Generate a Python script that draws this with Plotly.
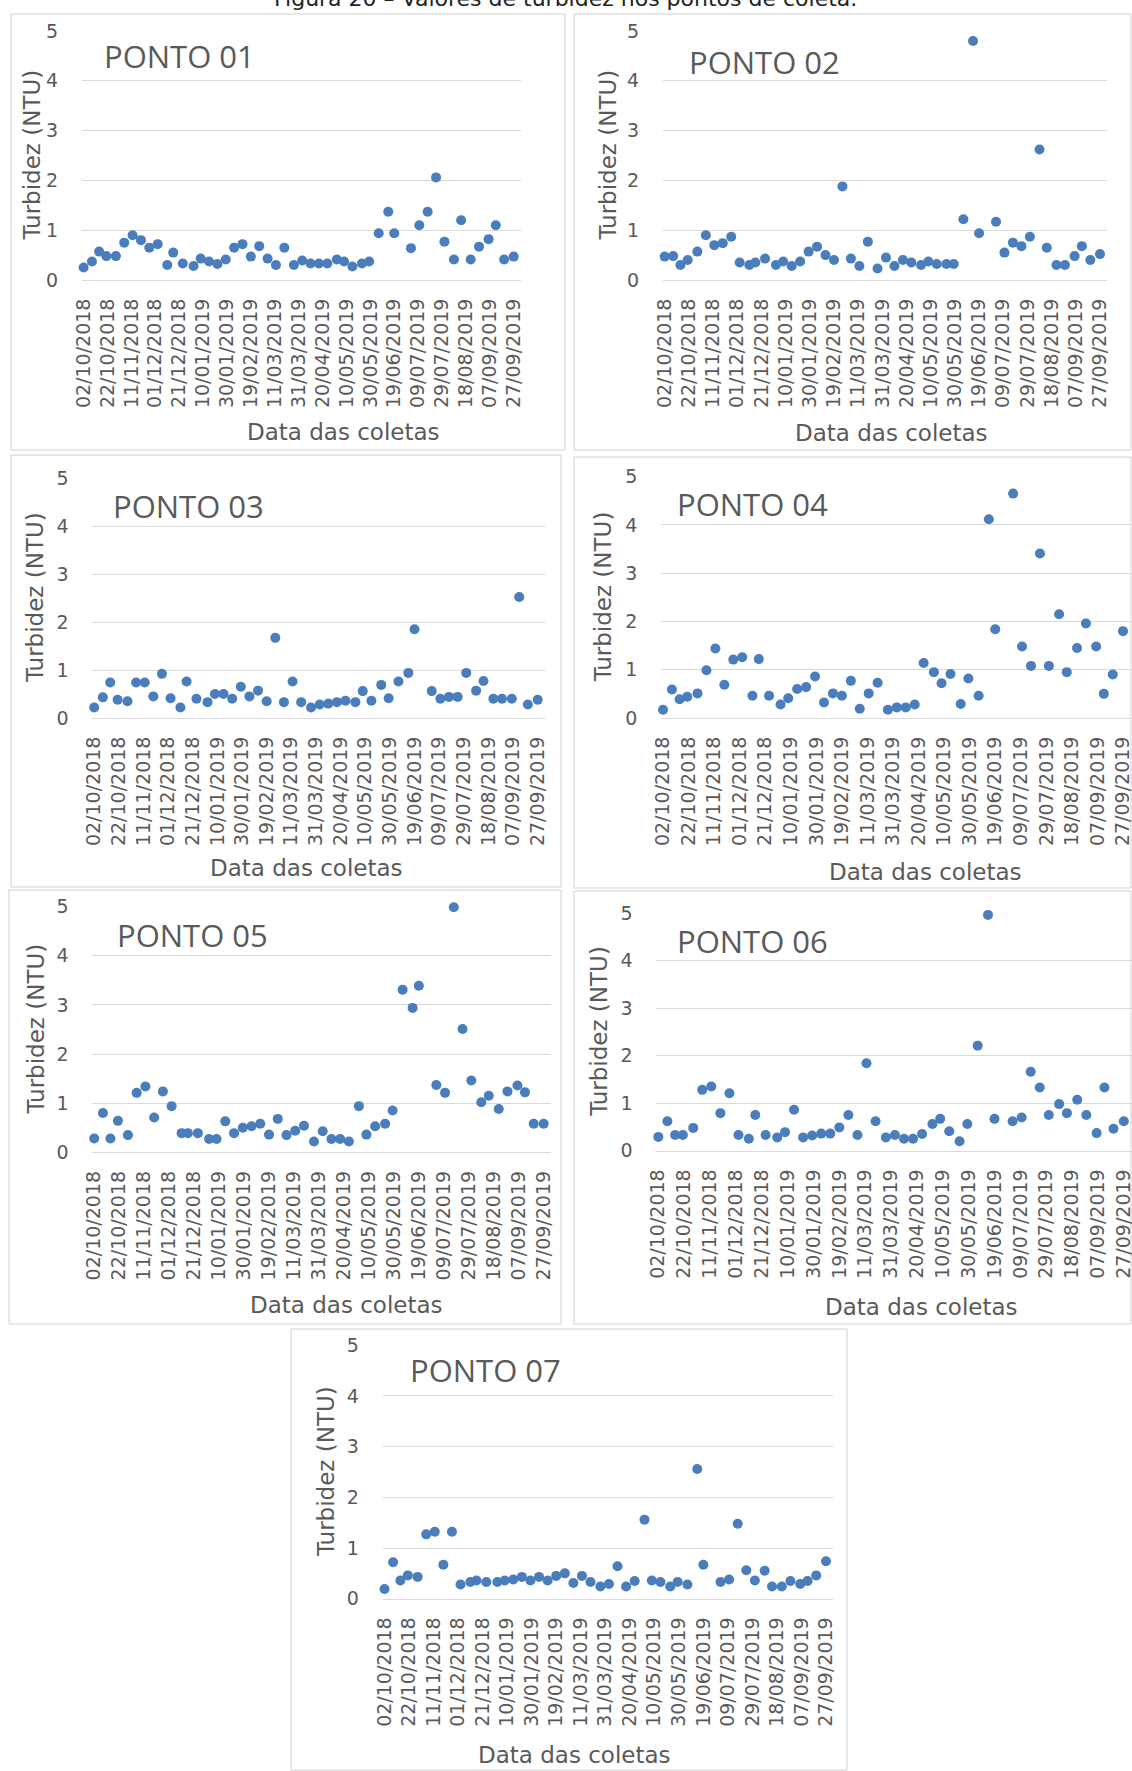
import pandas as pd
import plotly.graph_objects as go

# ---------------- data ----------------
dates = ["2018-10-02", "2018-10-09", "2018-10-15", "2018-10-21", "2018-10-29", "2018-11-05",
         "2018-11-12", "2018-11-19", "2018-11-26", "2018-12-03", "2018-12-11", "2018-12-16",
         "2018-12-24", "2019-01-02", "2019-01-08", "2019-01-15", "2019-01-22", "2019-01-29",
         "2019-02-05", "2019-02-12", "2019-02-19", "2019-02-26", "2019-03-05", "2019-03-12",
         "2019-03-19", "2019-03-27", "2019-04-03", "2019-04-10", "2019-04-17", "2019-04-24",
         "2019-05-02", "2019-05-08", "2019-05-15", "2019-05-23", "2019-05-29", "2019-06-06",
         "2019-06-14", "2019-06-19", "2019-07-03", "2019-07-10", "2019-07-17", "2019-07-24",
         "2019-07-31", "2019-08-08", "2019-08-14", "2019-08-22", "2019-08-29", "2019-09-06",
         "2019-09-12", "2019-09-19", "2019-09-27"]

ponto_01 = [0.25, 0.37, 0.57, 0.48, 0.48, 0.75, 0.90, 0.80, 0.65, 0.72,
            0.30, 0.55, 0.33, 0.28, 0.43, 0.37, 0.32, 0.41, 0.65, 0.72,
            0.47, 0.68, 0.43, 0.30, 0.65, 0.30, 0.39, 0.33, 0.33, 0.33,
            0.41, 0.37, 0.27, 0.33, 0.37, 0.94, 1.37, 0.94, 0.64, 1.10,
            1.37, 2.06, 0.77, 0.41, 1.20, 0.41, 0.67, 0.82, 1.10, 0.41, 0.47]
ponto_02 = [0.47, 0.48, 0.30, 0.40, 0.57, 0.90, 0.70, 0.74, 0.87, 0.35,
            0.30, 0.35, 0.43, 0.30, 0.37, 0.28, 0.37, 0.57, 0.67, 0.50,
            0.40, 1.88, 0.43, 0.28, 0.77, 0.23, 0.45, 0.28, 0.40, 0.35,
            0.30, 0.37, 0.32, 0.32, 0.32, 1.22, 4.80, 0.94, 1.17, 0.55,
            0.75, 0.68, 0.87, 2.62, 0.65, 0.30, 0.30, 0.48, 0.68, 0.40, 0.52]
ponto_03 = [0.22, 0.43, 0.74, 0.38, 0.35, 0.74, 0.74, 0.45, 0.92, 0.41,
            0.22, 0.76, 0.40, 0.33, 0.50, 0.50, 0.40, 0.65, 0.45, 0.57,
            0.35, 1.67, 0.33, 0.76, 0.33, 0.22, 0.28, 0.30, 0.33, 0.36,
            0.33, 0.56, 0.36, 0.69, 0.41, 0.76, 0.94, 1.85, 0.56, 0.40,
            0.44, 0.44, 0.94, 0.57, 0.77, 0.40, 0.40, 0.40, 2.52, 0.28, 0.38]
ponto_04 = [0.17, 0.59, 0.39, 0.44, 0.51, 0.99, 1.44, 0.69, 1.21, 1.26,
            0.46, 1.22, 0.46, 0.28, 0.41, 0.60, 0.64, 0.86, 0.32, 0.51,
            0.46, 0.77, 0.19, 0.51, 0.73, 0.17, 0.22, 0.22, 0.28, 1.14,
            0.95, 0.72, 0.91, 0.29, 0.82, 0.46, 4.12, 1.84, 4.65, 1.48,
            1.08, 3.41, 1.08, 2.15, 0.95, 1.45, 1.96, 1.48, 0.50, 0.90, 1.80]
ponto_05 = [0.28, 0.80, 0.28, 0.64, 0.35, 1.21, 1.34, 0.71, 1.24, 0.94,
            0.39, 0.39, 0.39, 0.27, 0.27, 0.63, 0.39, 0.50, 0.53, 0.58,
            0.36, 0.68, 0.35, 0.44, 0.54, 0.22, 0.43, 0.27, 0.27, 0.22,
            0.94, 0.36, 0.53, 0.58, 0.85, 3.31, 2.94, 3.39, 1.37, 1.21,
            4.99, 2.51, 1.46, 1.02, 1.15, 0.88, 1.24, 1.36, 1.22, 0.58, 0.58]
ponto_06 = [0.29, 0.62, 0.33, 0.33, 0.48, 1.28, 1.35, 0.79, 1.21, 0.33,
            0.25, 0.75, 0.33, 0.28, 0.39, 0.86, 0.28, 0.32, 0.36, 0.36,
            0.49, 0.75, 0.33, 1.84, 0.62, 0.28, 0.33, 0.25, 0.25, 0.35,
            0.56, 0.67, 0.41, 0.20, 0.56, 2.21, 4.96, 0.67, 0.62, 0.70,
            1.66, 1.33, 0.75, 0.98, 0.79, 1.07, 0.75, 0.37, 1.33, 0.46, 0.62]
ponto_07 = [0.19, 0.72, 0.36, 0.46, 0.43, 1.27, 1.32, 0.67, 1.32, 0.28,
            0.33, 0.36, 0.33, 0.33, 0.36, 0.38, 0.43, 0.36, 0.43, 0.36,
            0.45, 0.50, 0.31, 0.45, 0.33, 0.24, 0.29, 0.64, 0.24, 0.35,
            1.56, 0.36, 0.33, 0.24, 0.33, 0.28, 2.56, 0.67, 0.33, 0.38,
            1.48, 0.56, 0.36, 0.55, 0.24, 0.24, 0.35, 0.29, 0.35, 0.46, 0.74]

panel_names = ["PONTO 01", "PONTO 02", "PONTO 03", "PONTO 04", "PONTO 05", "PONTO 06", "PONTO 07"]
panel_values = [ponto_01, ponto_02, ponto_03, ponto_04, ponto_05, ponto_06, ponto_07]

tick_labels = ["02/10/2018", "22/10/2018", "11/11/2018", "01/12/2018", "21/12/2018",
               "10/01/2019", "30/01/2019", "19/02/2019", "11/03/2019", "31/03/2019",
               "20/04/2019", "10/05/2019", "30/05/2019", "19/06/2019", "09/07/2019",
               "29/07/2019", "18/08/2019", "07/09/2019", "27/09/2019"]
y_ticks = [0, 1, 2, 3, 4, 5]

title_text = "Figura 20 – Valores de turbidez nos pontos de coleta."
y_title = "Turbidez (NTU)"
x_title = "Data das coletas"

# ---------------- layout geometry (pixels) ----------------
W, H = 1132, 1771
geom = [
    dict(X0=83.6, X1=513.7, yt=31, yb=280, box=(11, 14, 565, 450), ytx=32, xt=(343, 432), pl=(102, 56)),
    dict(X0=664.7, X1=1100, yt=31, yb=280, box=(574, 14, 1131, 450), ytx=608, xt=(891, 433), pl=(687, 62)),
    dict(X0=94.2, X1=537.7, yt=478, yb=718, box=(11, 455, 561, 887), ytx=35, xt=(306, 868), pl=(111, 506)),
    dict(X0=663, X1=1123, yt=476.7, yb=718, box=(574, 457, 1131, 888), ytx=603, xt=(925, 872), pl=(675, 504)),
    dict(X0=94.2, X1=543.7, yt=906.7, yb=1152.3, box=(9, 890, 561, 1324), ytx=35, xt=(346, 1305), pl=(115, 935)),
    dict(X0=658.3, X1=1123.8, yt=913, yb=1150.7, box=(574, 891, 1131, 1324), ytx=599, xt=(921, 1307), pl=(675, 941)),
    dict(X0=384.5, X1=826, yt=1345.3, yb=1598.7, box=(291, 1329, 847, 1770), ytx=326, xt=(575, 1755), pl=(408, 1370)),
]

start = pd.Timestamp(dates[0])
tick_dates = [d.strftime("%Y-%m-%d") for d in pd.to_datetime(tick_labels, format="%d/%m/%Y")]
x_range = [(start - pd.Timedelta(days=1.5)).strftime("%Y-%m-%d %H:%M"),
           (start + pd.Timedelta(days=366)).strftime("%Y-%m-%d %H:%M")]

GRID = "#d9d9d9"
TXT = "#595959"
DOT = "#4a7dbb"
FONT = "DejaVu Sans"

fig = go.Figure()
shapes, annotations = [], []
layout_axes = {}

for k, (name, vals, g) in enumerate(zip(panel_names, panel_values, geom), start=1):
    sfx = "" if k == 1 else str(k)
    fig.add_trace(go.Scatter(
        x=dates, y=vals, mode="markers", xaxis="x" + sfx, yaxis="y" + sfx,
        marker=dict(color=DOT, size=10), cliponaxis=False, showlegend=False, name=name))

    ppd = (g["X1"] - g["X0"]) / 360.0
    xl = g["X0"] - 1.5 * ppd
    xr = g["X0"] + 366 * ppd
    layout_axes["xaxis" + sfx] = dict(
        domain=[xl / W, min(xr / W, 1.0)], anchor="y" + sfx, type="date", range=x_range,
        tickmode="array", tickvals=tick_dates, ticktext=tick_labels, tickangle=-90,
        showgrid=False, zeroline=False, showline=True, linecolor=GRID, linewidth=1,
        ticks="outside", ticklen=10, tickcolor="rgba(0,0,0,0)", ticklabeloverflow="allow",
        tickfont=dict(family=FONT, size=19, color=TXT), automargin=False, fixedrange=True)
    layout_axes["yaxis" + sfx] = dict(
        domain=[1 - g["yb"] / H, 1 - g["yt"] / H], anchor="x" + sfx, range=[0, 5],
        tickmode="array", tickvals=y_ticks, showgrid=True, gridcolor=GRID, gridwidth=1,
        zeroline=False, showline=False, ticks="outside", ticklen=19,
        tickcolor="rgba(0,0,0,0)", tickfont=dict(family=FONT, size=19, color=TXT),
        automargin=False, fixedrange=True)

    bx0, by0, bx1, by1 = g["box"]
    shapes.append(dict(type="rect", xref="paper", yref="paper",
                       x0=bx0 / W, x1=bx1 / W, y0=1 - by1 / H, y1=1 - by0 / H,
                       line=dict(color="#d0d0d0", width=1), fillcolor="rgba(0,0,0,0)", layer="below"))
    annotations.append(dict(text=y_title, xref="paper", yref="paper", x=g["ytx"] / W,
                            y=1 - (g["yt"] + g["yb"]) / 2 / H, textangle=-90, showarrow=False,
                            xanchor="center", yanchor="middle",
                            font=dict(family=FONT, size=23, color=TXT)))
    annotations.append(dict(text=x_title, xref="paper", yref="paper", x=g["xt"][0] / W,
                            y=1 - g["xt"][1] / H, showarrow=False, xanchor="center", yanchor="middle",
                            font=dict(family=FONT, size=23, color=TXT)))
    annotations.append(dict(text=name, xref="paper", yref="paper", x=g["pl"][0] / W,
                            y=1 - g["pl"][1] / H, showarrow=False, xanchor="left", yanchor="middle",
                            font=dict(family="Open Sans", size=31, color=TXT)))

annotations.append(dict(text=title_text, xref="paper", yref="paper", x=565 / W, y=1 - 13 / H,
                        showarrow=False, xanchor="center", yanchor="bottom",
                        font=dict(family=FONT, size=22, color="#222222")))

fig.update_layout(width=W, height=H, margin=dict(l=0, r=0, t=0, b=0),
                  paper_bgcolor="white", plot_bgcolor="white", showlegend=False,
                  shapes=shapes, annotations=annotations, **layout_axes)

fig.write_html("out.html")
